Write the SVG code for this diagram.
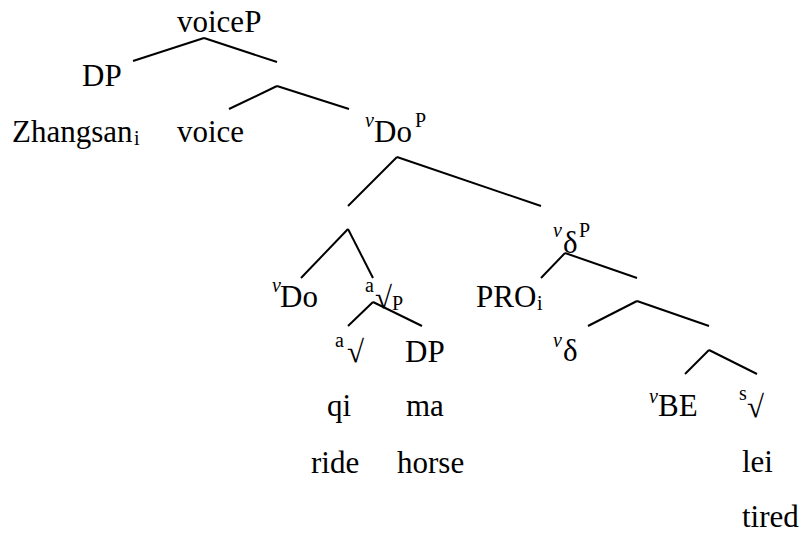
<svg xmlns="http://www.w3.org/2000/svg" width="802" height="534" viewBox="0 0 802 534">
<style>
.m{font-size:31px}
.s{font-size:20px}
.v{font-size:20px;font-style:italic}
.e line{stroke:#000;stroke-width:2;stroke-linecap:butt}
</style>
<rect width="802" height="534" fill="#fff"/>
<g class="e" id="connectors">
<line x1="204" y1="38" x2="133" y2="61"/>
<line x1="204" y1="38" x2="277" y2="62"/>
<line x1="277" y1="86" x2="229" y2="109"/>
<line x1="277" y1="86" x2="349" y2="109"/>
<line x1="397" y1="157" x2="348" y2="206"/>
<line x1="397" y1="157" x2="541" y2="206"/>
<line x1="348" y1="229" x2="301" y2="278"/>
<line x1="348" y1="229" x2="373" y2="278"/>
<line x1="373" y1="302" x2="348" y2="326"/>
<line x1="373" y1="302" x2="422" y2="326"/>
<line x1="565" y1="253" x2="541" y2="278"/>
<line x1="565" y1="253" x2="637" y2="278"/>
<line x1="637" y1="301" x2="588" y2="326"/>
<line x1="637" y1="301" x2="709" y2="326"/>
<line x1="709" y1="350" x2="685" y2="374"/>
<line x1="709" y1="350" x2="757" y2="374"/>
</g>
<g font-family="Liberation Serif, DejaVu Serif, serif" fill="#000">
<g id="voiceP"><text class="m" x="177" y="32">voiceP</text></g>
<g id="DP1"><text class="m" x="82" y="86">DP</text></g>
<g id="Zhangsan"><text class="m" x="12" y="142">Zhangsan</text><text class="s" x="134" y="145">i</text></g>
<g id="voice"><text class="m" x="177" y="142">voice</text></g>
<g id="vDoP"><text class="v" x="365" y="127">v</text><text class="m" x="374" y="142">Do</text><text class="s" x="415" y="127">P</text></g>
<g id="vDo"><text class="v" x="272" y="292">v</text><text class="m" x="280" y="307">Do</text></g>
<g id="aRootP"><text class="s" x="365" y="292">a</text><text class="m" x="375" y="308">√</text><text class="s" x="392" y="310">P</text></g>
<g id="aRoot"><text class="s" x="335" y="347">a</text><text class="m" x="347" y="362">√</text></g>
<g id="DP2"><text class="m" x="405" y="362">DP</text></g>
<g id="qi"><text class="m" x="327" y="416">qi</text></g>
<g id="ride"><text class="m" x="311" y="473">ride</text></g>
<g id="ma"><text class="m" x="406" y="416">ma</text></g>
<g id="horse"><text class="m" x="397" y="473">horse</text></g>
<g id="vdeltaP"><text class="v" x="553" y="237">v</text><text class="m" x="563" y="253">δ</text><text class="s" x="579" y="237">P</text></g>
<g id="PRO"><text class="m" x="476" y="307">PRO</text><text class="s" x="537" y="310">i</text></g>
<g id="vdelta"><text class="v" x="553" y="347">v</text><text class="m" x="563" y="361">δ</text></g>
<g id="vBE"><text class="v" x="649" y="403">v</text><text class="m" x="658" y="416">BE</text></g>
<g id="sRoot"><text class="s" x="739" y="400">s</text><text class="m" x="747" y="417">√</text></g>
<g id="lei"><text class="m" x="742" y="472">lei</text></g>
<g id="tired"><text class="m" x="742" y="527">tired</text></g>
</g>
</svg>
